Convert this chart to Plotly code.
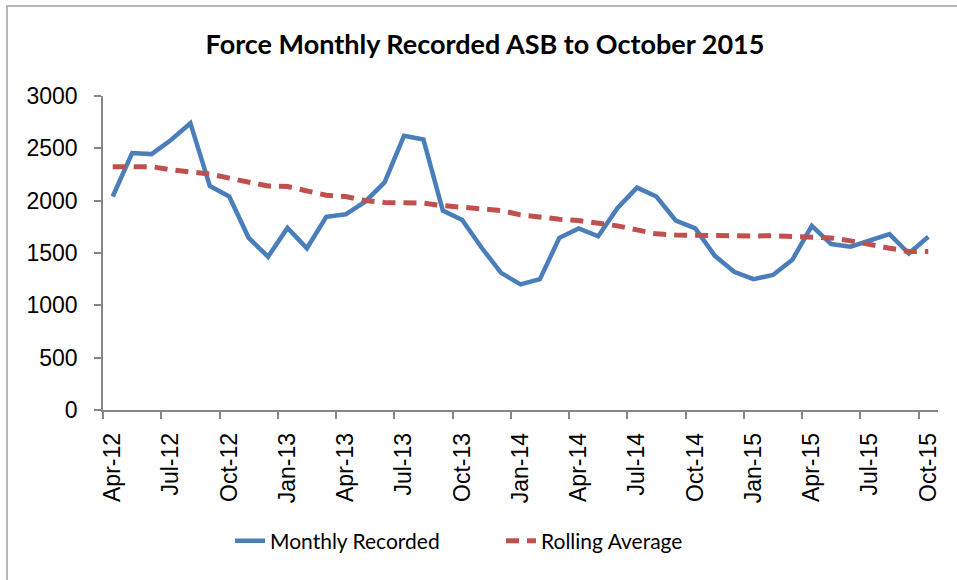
import plotly.graph_objects as go

months = ["Apr-12","May-12","Jun-12","Jul-12","Aug-12","Sep-12","Oct-12","Nov-12","Dec-12",
          "Jan-13","Feb-13","Mar-13","Apr-13","May-13","Jun-13","Jul-13","Aug-13","Sep-13",
          "Oct-13","Nov-13","Dec-13","Jan-14","Feb-14","Mar-14","Apr-14","May-14","Jun-14",
          "Jul-14","Aug-14","Sep-14","Oct-14","Nov-14","Dec-14","Jan-15","Feb-15","Mar-15",
          "Apr-15","May-15","Jun-15","Jul-15","Aug-15","Sep-15","Oct-15"]

monthly_recorded = [2040, 2455, 2445, 2580, 2740, 2140, 2040, 1645, 1465,
                    1740, 1545, 1845, 1870, 1990, 2175, 2620, 2585, 1905,
                    1815, 1550, 1310, 1200, 1250, 1645, 1735, 1660, 1930,
                    2125, 2040, 1810, 1735, 1475, 1320, 1250, 1290, 1435,
                    1760, 1585, 1560, 1625, 1680, 1495, 1655]

rolling_average = [2325, 2330, 2325, 2295, 2280, 2255, 2215, 2175, 2140,
                   2135, 2095, 2052, 2040, 2001, 1982, 1982, 1976, 1953,
                   1934, 1925, 1906, 1864, 1839, 1823, 1810, 1785, 1759,
                   1721, 1683, 1672, 1667, 1663, 1663, 1663, 1665, 1655,
                   1651, 1644, 1616, 1577, 1546, 1514, 1514]

label_months = months[::3]
y_ticks = [0, 500, 1000, 1500, 2000, 2500, 3000]

idx = list(range(len(months)))

fig = go.Figure()
fig.add_trace(go.Scatter(
    x=idx, y=monthly_recorded, mode="lines", name="Monthly Recorded",
    line=dict(color="#4A7EBB", width=4.5), text=months, legend="legend",
    hovertemplate="%{text}: %{y}<extra></extra>"))
fig.add_trace(go.Scatter(
    x=idx, y=rolling_average, mode="lines", name="Rolling Average",
    line=dict(color="#C0504D", width=5, dash="13px,8px"), text=months, legend="legend2",
    hovertemplate="%{text}: %{y}<extra></extra>"))

W, H = 957, 580
L, R, T, B = 103, 19, 96, 170
pw, ph = W - L - R, H - T - B

legfont = dict(family="Lato", size=21, color="black")
leg_y = -(541 - 410) / ph

fig.update_layout(
    width=W, height=H,
    margin=dict(l=L, r=R, t=T, b=B, autoexpand=False),
    paper_bgcolor="white", plot_bgcolor="white",
    title=dict(text="<b>Force Monthly Recorded ASB to October 2015</b>",
               x=485 / W, xref="container", xanchor="center", y=1 - 45 / H, yanchor="middle",
               font=dict(family="Lato", size=27, color="black")),
    showlegend=True,
    legend=dict(x=(230 - L) / pw, xanchor="left", y=leg_y, yanchor="middle",
                font=legfont, bgcolor="rgba(0,0,0,0)"),
    legend2=dict(x=(501 - L) / pw, xanchor="left", y=leg_y, yanchor="middle",
                 font=legfont, bgcolor="rgba(0,0,0,0)"),
    xaxis=dict(range=[-0.5, len(months) - 0.5], showgrid=False, zeroline=False,
               tickmode="array", tickvals=idx[::3], ticktext=label_months,
               tickangle=-90, ticks="", ticklabelstandoff=12,
               tickfont=dict(family="Liberation Sans", size=23, color="black"),
               showline=True, linecolor="#868686", linewidth=1.5,
               minor=dict(tickmode="linear", tick0=-0.5, dtick=3, ticks="outside",
                          ticklen=7, tickcolor="#868686", tickwidth=1.5, showgrid=False)),
    yaxis=dict(range=[0, 3000], tickvals=y_ticks, showgrid=False, zeroline=False,
               ticks="outside", ticklen=7, tickcolor="#868686", tickwidth=1.5,
               ticklabelstandoff=12,
               tickfont=dict(family="Liberation Sans", size=23, color="black"),
               showline=True, linecolor="#868686", linewidth=1.5),
    shapes=[dict(type="rect", xref="paper", yref="paper",
                 x0=(7 - L) / pw, x1=(W + 20 - L) / pw,
                 y0=-(H + 20 - (T + ph)) / ph, y1=(T + ph - 6) / ph,
                 line=dict(color="#A0A0A0", width=1.5), fillcolor="rgba(0,0,0,0)",
                 layer="below")],
)

fig.write_html("out.html", config={"displayModeBar": False},
               post_script="document.body.style.margin='0';document.body.style.padding='0';")
